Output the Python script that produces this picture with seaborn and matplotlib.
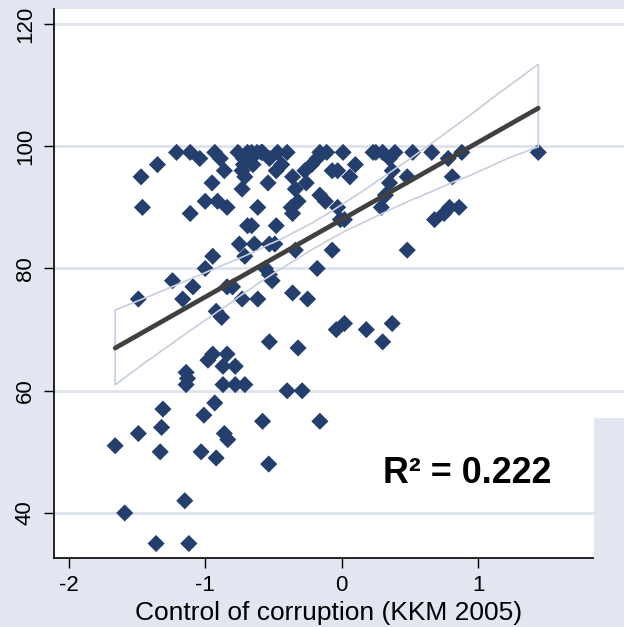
import matplotlib
matplotlib.use("Agg")
import matplotlib.pyplot as plt
import seaborn as sns
import numpy as np
import pandas as pd
from matplotlib.patches import Rectangle

# ---- data ----
corruption = [
    # top rows (~99)
    -1.21, -1.11, -1.04, -0.93, -0.89, -0.76, -0.72, -0.69, -0.66, -0.62, -0.59, -0.58,
    -0.53, -0.47, -0.40, -0.18, -0.16, -0.11, 0.01, 0.23, 0.25, 0.30, 0.35, 0.39, 0.52,
    0.66, 0.78, 0.88, 1.44,
    # 92-97
    -1.35, -1.47, -0.86, -0.95, -0.73, -0.73, -0.72, -0.65, -0.48, -0.44, -0.22, -0.27,
    -0.07, -0.03, 0.10, 0.06, -0.71, -0.54, -0.36, -0.26, -0.34, -0.16, 0.37, 0.35, 0.48,
    0.81, 0.32,
    # 88-91
    -1.46, -1.11, -1.00, -0.91, -0.84, -0.615, -0.37, -0.32, -0.36, -0.12, -0.03, 0.29,
    -0.01, 0.02, 0.68, 0.75, 0.79, 0.86,
    # 80-87
    -0.69, -0.66, -0.48, -0.75, -0.64, -0.53, -0.49, -0.34, -0.07, 0.48, -0.71, -0.945,
    -1.00, -0.56, -0.18,
    # 72-79
    -1.24, -1.09, -0.84, -0.80, -0.53, -0.51, -0.36, -0.25, -0.73, -0.615, -1.165, -1.49,
    -0.92, -0.88,
    # 60-71
    -0.04, 0.02, 0.18, 0.37, 0.30, -0.53, -0.32, -0.945, -0.84, -0.98, -0.87, -0.78,
    -1.14, -1.13, -1.14, -0.87, -0.78, -0.71, -0.40, -0.29,
    # below 60
    -0.93, -1.31, -1.01, -0.58, -0.16, -1.32, -0.86, -0.835, -1.49, -1.66, -1.03, -1.33,
    -0.92, -0.535, -1.15, -1.59, -1.36, -1.12,
]
outcome = [
    99, 99, 98, 99, 98, 99, 98, 99, 99, 99, 99, 99,
    98, 99, 99, 98, 99, 99, 99, 99, 99, 99, 98, 99, 99,
    99, 98, 99, 99,
    97, 95, 96, 94, 96, 93, 97, 97, 96, 97, 97, 96,
    96, 96, 97, 95, 95, 94, 95, 94, 93, 92, 96, 94, 95,
    95, 92,
    90, 89, 91, 91, 90, 90, 90, 91, 89, 91, 90, 90,
    88, 88, 88, 89, 90, 90,
    87, 87, 87, 84, 84, 84, 84, 83, 83, 83, 82, 82,
    80, 80, 80,
    78, 77, 77, 77, 79, 78, 76, 75, 75, 75, 75, 75,
    73, 72,
    70, 71, 70, 71, 68, 68, 67, 66, 66, 65, 64, 64,
    63, 62, 61, 61, 61, 61, 60, 60,
    58, 57, 56, 55, 55, 54, 53, 52, 53, 51, 50, 50,
    49, 48, 42, 40, 35, 35,
]
x_ticks = [-2, -1, 0, 1]
y_ticks = [40, 60, 80, 100, 120]
x_label = "Control of corruption (KKM 2005)"
r2_text = "R² = 0.222"

df = pd.DataFrame({"corruption": corruption, "outcome": outcome})

# ---- style ----
BG = "#e1e6f0"
NAVY = "#243f6d"
plt.rcParams["font.family"] = ["Liberation Sans", "DejaVu Sans"]

W, H = 624, 627
fig = plt.figure(figsize=(W / 100, H / 100), dpi=100, facecolor=BG)
left_px, right_px, top_px, bottom_px = 54, 624, 9, 558
ax = fig.add_axes([left_px / W, 1 - bottom_px / H,
                   (right_px - left_px) / W, (bottom_px - top_px) / H])
ax.set_facecolor("white")

sns.regplot(data=df, x="corruption", y="outcome", ax=ax, marker="D", ci=95, seed=3,
            scatter_kws=dict(s=76, color=NAVY, edgecolor="none", alpha=1, zorder=2),
            line_kws=dict(color="#404040", lw=3.4, zorder=4, solid_capstyle="round"))

# CI band as outline only
for coll in ax.collections[1:]:
    coll.set_alpha(1)
    coll.set_facecolor("none")
    coll.set_edgecolor("#c8cee0")
    coll.set_linewidth(1.2)
    coll.set_zorder(3)

ax.set_xlim(-2.108, (624 - 341.7) / 136.5)
ax.set_ylim(32.63, 122.46)
ax.set_xticks(x_ticks)
ax.set_yticks(y_ticks)
ax.set_xticklabels([str(t) for t in x_ticks])
ax.set_yticklabels([str(t) for t in y_ticks], rotation=90, va="center")
ax.tick_params(axis="both", direction="out", length=7, width=1, color="black",
               labelsize=16, labelcolor="black")
ax.tick_params(axis="x", pad=5)
ax.tick_params(axis="y", pad=6)
for lbl in ax.get_xticklabels() + ax.get_yticklabels():
    lbl.set_fontsize(16)

ax.grid(axis="y", color="#dde2ee", lw=2, zorder=0)
ax.grid(axis="x", visible=False)
ax.set_axisbelow(True)
for s in ["top", "right"]:
    ax.spines[s].set_visible(False)
for s in ["left", "bottom"]:
    ax.spines[s].set_color("black")
    ax.spines[s].set_linewidth(1.2)

ax.set_xlabel(x_label, fontsize=19)
ax.xaxis.set_label_coords((329 - left_px) / (right_px - left_px),
                          -(620 - bottom_px) / (bottom_px - top_px))
ax.xaxis.label.set_va("baseline")
ax.set_ylabel("")

ax.text(0.30, 46.4, r2_text, fontsize=25.8, fontweight="bold", ha="left", va="center",
        zorder=5)

# background-coloured block at lower right (as in the reference)
fig.patches.append(Rectangle((594 / W, 0), (W - 594) / W, 1 - 418 / H,
                             transform=fig.transFigure, facecolor=BG,
                             edgecolor="none", zorder=10))

fig.savefig("out.png", dpi=100, facecolor=BG)
